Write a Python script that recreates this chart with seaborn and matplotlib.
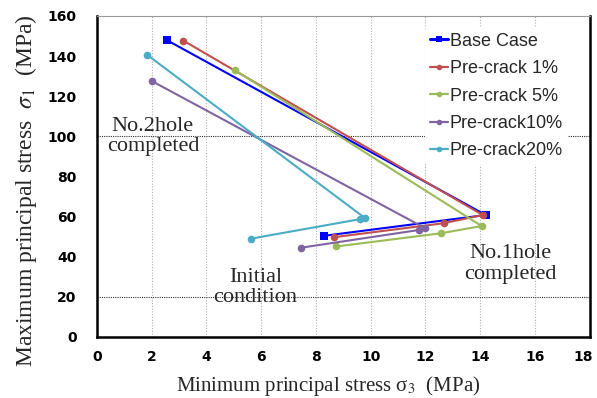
import pandas as pd
import matplotlib.pyplot as plt
import matplotlib.transforms as mtransforms
import seaborn as sns

cases = ["Base Case", "Pre-crack 1%", "Pre-crack 5%", "Pre-crack10%", "Pre-crack20%"]

base_s3 = [8.28, 14.2, 2.55]
base_s1 = [50.3, 60.7, 148.0]
pc1_s3 = [8.65, 12.66, 14.09, 3.16]
pc1_s1 = [49.6, 56.6, 60.7, 147.7]
pc5_s3 = [8.75, 12.57, 14.05, 5.04]
pc5_s1 = [45.0, 51.6, 55.2, 133.0]
pc10_s3 = [7.46, 11.75, 11.99, 2.0]
pc10_s1 = [44.4, 53.2, 54.1, 127.6]
pc20_s3 = [5.63, 9.6, 9.8, 1.85]
pc20_s1 = [48.9, 58.6, 59.1, 140.5]

series = [(base_s3, base_s1), (pc1_s3, pc1_s1), (pc5_s3, pc5_s1),
          (pc10_s3, pc10_s1), (pc20_s3, pc20_s1)]
rows = []
for name, (xs, ys) in zip(cases, series):
    for i, (x, y) in enumerate(zip(xs, ys)):
        rows.append({"case": name, "step": i, "s3": x, "s1": y})
df = pd.DataFrame(rows)

colors = ["#0000FF", "#C0504D", "#9BBB59", "#8064A2", "#4BACC6"]
palette = dict(zip(cases, colors))
markers = {c: ("s" if c == "Base Case" else "o") for c in cases}

sns.set_style("white")
plt.rcParams["font.family"] = ["Liberation Sans", "DejaVu Sans"]
plt.rcParams["mathtext.fontset"] = "stix"

fig = plt.figure(figsize=(5.97, 3.98), dpi=100)
ax = fig.add_axes([0.162, 0.154, 0.826, 0.806])

# dotted grid: vertical at every x tick, horizontal only at 20 and 100
for xv in range(2, 18, 2):
    ax.axvline(xv, color="#b0b0b0", ls=(0, (1, 1.5)), lw=0.8, zorder=0)
for yv in [20, 100]:
    ax.axhline(yv, color="#303030", ls=(0, (1, 1)), lw=0.8, zorder=0)

sns.lineplot(data=df, x="s3", y="s1", hue="case", style="case",
             hue_order=cases, style_order=cases, palette=palette,
             markers=markers, dashes=False, sort=False, estimator=None,
             markersize=5.5, markeredgewidth=0, ax=ax)
for line, c in zip(ax.get_lines()[-5:], cases):
    line.set_linewidth(2.2 if c == "Base Case" else 1.6)

ax.set_xlim(0, 18)
ax.set_ylim(0, 160)
ax.set_xticks(range(0, 19, 2))
ax.set_yticks(range(0, 161, 20))
ax.tick_params(axis="both", direction="inout", length=9, width=1.5,
               labelsize=10, colors="black")
ax.tick_params(axis="y", pad=10)
ax.tick_params(axis="x", pad=5)
for lab in ax.get_xticklabels() + ax.get_yticklabels():
    lab.set_fontfamily("DejaVu Sans")
    lab.set_fontweight("bold")
# pull the last x label inward so it stays inside the picture
last = ax.get_xticklabels()[-1]
last.set_transform(last.get_transform() +
                   mtransforms.ScaledTranslation(-5 / 72, 0, fig.dpi_scale_trans))

for side in ["left", "bottom", "right"]:
    ax.spines[side].set_color("black")
    ax.spines[side].set_linewidth(1.8)
ax.spines["top"].set_color("#999999")
ax.spines["top"].set_linewidth(0.8)

serif = ["Liberation Serif", "DejaVu Serif"]
ax.set_xlabel("Minimum principal stress σ$_3$  (MPa)", fontsize=15, family=serif)
ax.set_ylabel("Maximum principal stress  $\\sigma_1$  (MPa)", fontsize=17, family=serif)
ax.xaxis.set_label_coords(0.47, -0.115)
ax.yaxis.set_label_coords(-0.118, 0.455)

ax.text(2.05, 100, "No.2hole\ncompleted", ha="center", va="center",
        fontsize=16, family=serif, linespacing=1.1)
ax.text(5.8, 24.5, "Initial\ncondition", ha="center", va="center",
        fontsize=16, family=serif, linespacing=1.1)
ax.text(15.1, 36.2, "No.1hole\ncompleted", ha="center", va="center",
        fontsize=16, family=serif, linespacing=1.1)

leg = ax.legend(loc="upper left", bbox_to_anchor=(0.665, 0.965),
                fontsize=13, frameon=True, facecolor="white", edgecolor="none",
                framealpha=1, handlelength=1.0, handletextpad=0.1,
                labelspacing=0.58, borderpad=0.3, borderaxespad=0)
for h in leg.legend_handles:
    h.set_markersize(4)

plt.savefig("out.png", dpi=100)
